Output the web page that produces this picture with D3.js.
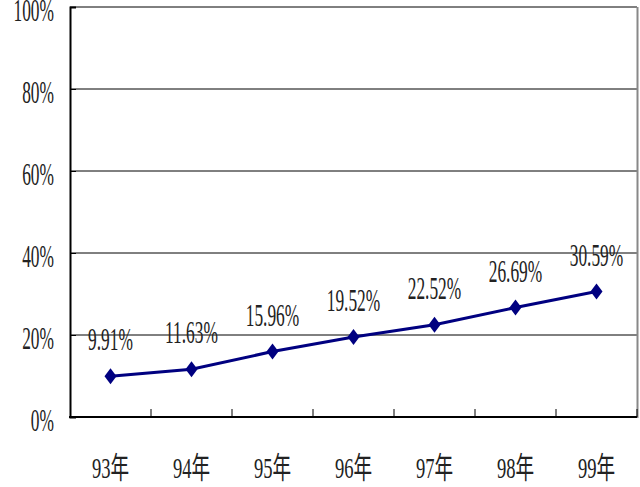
<!DOCTYPE html>
<html><head><meta charset="utf-8">
<script src="https://cdn.jsdelivr.net/npm/d3@7"></script>
<style>body{margin:0;background:#fff}svg{display:block}
.lbl{font-family:"Liberation Serif","DejaVu Serif",serif;}
.cat{font-family:"Liberation Serif","Noto Sans CJK TC",serif;}
</style>
</head><body>
<svg id="c" width="640" height="487"></svg>
<script>
const categories = ["93年","94年","95年","96年","97年","98年","99年"];
const values = [9.91, 11.63, 15.96, 19.52, 22.52, 26.69, 30.59];
const valueLabels = ["9.91%","11.63%","15.96%","19.52%","22.52%","26.69%","30.59%"];
const yTicks = [0,20,40,60,80,100];

const svg = d3.select("#c");
const L = 70, R = 637, T = 7, B = 417;
const sx = 0.56;

const x = d3.scaleBand().domain(categories).range([L, R]).padding(0);
const y = d3.scaleLinear().domain([0,100]).range([B, T]);

// gridlines
svg.append("g").selectAll("line").data(yTicks.filter(d=>d>0)).join("line")
  .attr("x1", L).attr("x2", R).attr("y1", d=>y(d)).attr("y2", d=>y(d))
  .attr("stroke","#000").attr("stroke-width",1);

// right border
svg.append("line").attr("x1",R+0.5).attr("x2",R+0.5).attr("y1",T).attr("y2",B+1)
  .attr("stroke","#888").attr("stroke-width",2);

// y-axis
const yAxis = d3.axisLeft(y).tickValues(yTicks).tickSize(-6).tickFormat("");
const gy = svg.append("g").attr("transform",`translate(${L},0)`).call(yAxis);
gy.select(".domain").attr("stroke","#000").attr("stroke-width",2);
gy.selectAll(".tick line").attr("stroke","#000").attr("stroke-width",1);

svg.append("g").selectAll("text").data(yTicks).join("text")
  .attr("class","lbl")
  .attr("transform", d=>`translate(54,${y(d)+14}) scale(${sx},1)`)
  .attr("text-anchor","end").attr("font-size",31)
  .attr("fill","#222").text(d=>d+"%");

// x-axis
const bounds = categories.slice(1).map(c=>x(c)).concat([R]);
svg.append("line").attr("x1",L-1).attr("x2",R).attr("y1",B).attr("y2",B)
  .attr("stroke","#000").attr("stroke-width",2);
svg.append("g").selectAll("line").data(bounds).join("line")
  .attr("x1",d=>d).attr("x2",d=>d).attr("y1",B).attr("y2",B-8)
  .attr("stroke","#000").attr("stroke-width",1);

svg.append("g").selectAll("text").data(categories).join("text")
  .attr("class","cat")
  .attr("transform", d=>`translate(${x(d)+x.bandwidth()/2},${478}) scale(0.62,1)`)
  .attr("text-anchor","middle")
  .attr("font-size",30).attr("fill","#222").text(d=>d);

// line
const cx = d => x(d)+x.bandwidth()/2;
const line = d3.line().x((d,i)=>cx(categories[i])).y(d=>y(d));
svg.append("path").datum(values).attr("d",line).attr("fill","none")
  .attr("stroke","#000080").attr("stroke-width",3);

// markers
const diamond = "M0,-8L6,0L0,8L-6,0Z";
svg.append("g").selectAll("path").data(values).join("path")
  .attr("transform",(d,i)=>`translate(${cx(categories[i])},${y(d)})`)
  .attr("d",diamond).attr("fill","#000080");

// data labels
svg.append("g").selectAll("text").data(values).join("text")
  .attr("class","lbl")
  .attr("transform",(d,i)=>`translate(${cx(categories[i])},${y(d)-26}) scale(${sx},1)`)
  .attr("text-anchor","middle").attr("font-size",31)
  .attr("fill","#222").text((d,i)=>valueLabels[i]);
</script>
</body></html>
